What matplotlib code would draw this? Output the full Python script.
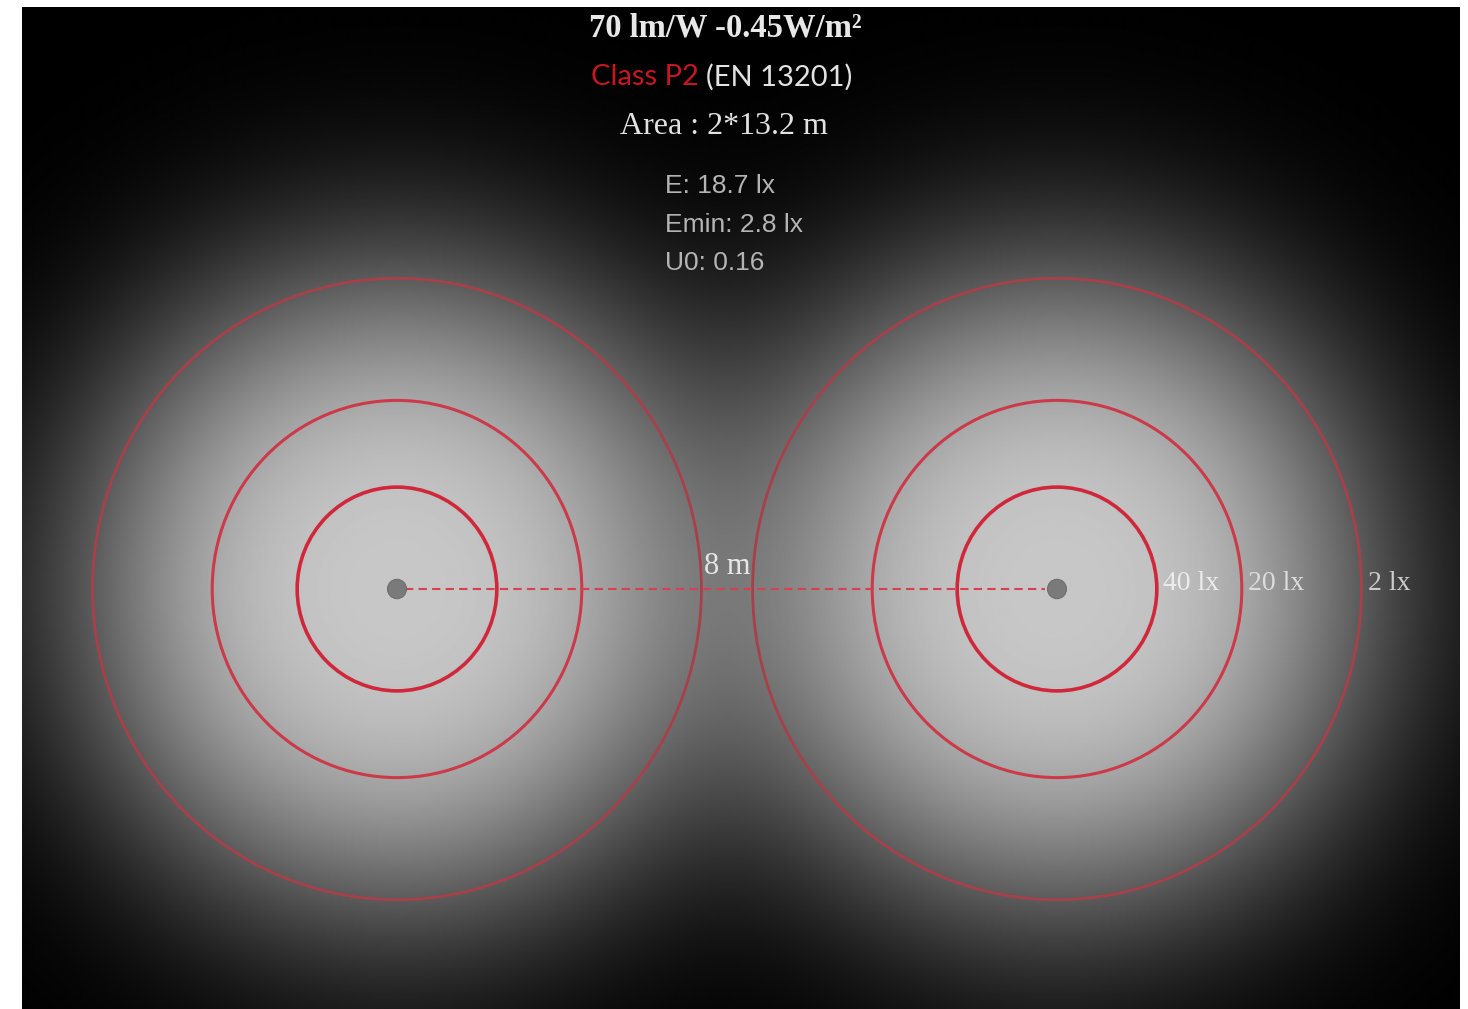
import numpy as np
import matplotlib
matplotlib.use("Agg")
import matplotlib.pyplot as plt
from matplotlib.patches import Circle

# ---- data ----
lamp_x_m = [0.0, 8.0]
lamp_y_m = [0.0, 0.0]
iso_levels_lx = [40, 20, 2]
iso_radius_m = [1.21, 2.24, 3.69]
iso_labels = ["40 lx", "20 lx", "2 lx"]
spacing_label = "8 m"
title_line = "70 lm/W -0.45W/m²"
class_label = "Class P2"
norm_label = "(EN 13201)"
area_label = "Area : 2*13.2 m"
stat_lines = ["E: 18.7 lx", "Emin: 2.8 lx", "U0: 0.16"]

W, H = 1468, 1009
fig = plt.figure(figsize=(W / 100, H / 100), dpi=100, facecolor="white")

# black panel: x 22..1460 px, y 7..1009 px
pxm_x, pxm_y = 82.5, 84.2
lamp_px = (397, 589)
x0 = -(lamp_px[0] - 22) / pxm_x
x1 = (1460 - lamp_px[0]) / pxm_x
y0 = -(1009 - lamp_px[1]) / pxm_y
y1 = (lamp_px[1] - 7) / pxm_y
ax = fig.add_axes([22 / W, 0, (1460 - 22) / W, (1009 - 7) / H])
ax.set_xlim(x0, x1)
ax.set_ylim(y0, y1)
ax.set_aspect("auto")
ax.axis("off")

# glow background
xs = np.linspace(x0, x1, 900)
ys = np.linspace(y0, y1, 650)
X, Y = np.meshgrid(xs, ys)
sigma, p = 332 / pxm_x, 3.0
dark = np.ones_like(X)
for lx, ly in zip(lamp_x_m, lamp_y_m):
    r = np.hypot(X - lx, Y - ly)
    a = np.exp(-(r / sigma) ** p)
    dark *= (1 - a)
B = 0.78 * (1 - dark)
ax.imshow(B, extent=(x0, x1, y0, y1), origin="lower", cmap="gray",
          vmin=0, vmax=1, aspect="auto", interpolation="bilinear", zorder=0)

# iso-lux rings
ring_colors = ["#d0283a", "#cc3a4a", "#a8404a"]
ring_lw = [2.6, 2.2, 2.0]
for lx, ly in zip(lamp_x_m, lamp_y_m):
    for rad, c, lw in zip(iso_radius_m, ring_colors, ring_lw):
        ax.add_patch(Circle((lx, ly), rad, fill=False, ec=c, lw=lw, zorder=2))

# dashed spacing line
ax.plot([lamp_x_m[0] + 0.1, lamp_x_m[1] - 0.14], [0, 0], color="#d8404e",
        lw=1.5, dashes=(4, 2.5), zorder=3)

# lamps
for lx, ly in zip(lamp_x_m, lamp_y_m):
    ax.add_patch(Circle((lx, ly), 0.115, fc="#7a7a7a", ec="#6e6e6e", lw=0.8, zorder=4))

serif = "Liberation Serif"
ax.text((lamp_x_m[0] + lamp_x_m[1]) / 2, 0.27, spacing_label, family=serif,
        fontsize=22, color="#e6e6e6", ha="center", va="center", zorder=5)

label_colors = ["#ececec", "#dcdcdc", "#cccccc"]
for rad, lab, c in zip(iso_radius_m, iso_labels, label_colors):
    ax.text(lamp_x_m[1] + rad + 0.08, 0.07, lab, family=serif, fontsize=20,
            color=c, ha="left", va="center", zorder=5)

def fy(py):
    return 1 - py / H

fig.text(725 / W, fy(28), title_line, family=serif, weight="bold",
         fontsize=23.5, color="#e8e8e8", ha="center", va="center")
fig.text(699 / W, fy(77), class_label, family="Lato", fontsize=21,
         color="#c8161e", ha="right", va="center")
fig.text(706 / W, fy(77), norm_label, family="Lato", fontsize=21,
         color="#e2e2e2", ha="left", va="center")
fig.text(724 / W, fy(126), area_label, family=serif, fontsize=23,
         color="#e2e2e2", ha="center", va="center")
for i, s_ in enumerate(stat_lines):
    fig.text(665 / W, fy(186 + 38.5 * i), s_, family="Liberation Sans",
             fontsize=19, color="#b4b4b4", ha="left", va="center")

fig.savefig("out.png", dpi=100, facecolor="white")
